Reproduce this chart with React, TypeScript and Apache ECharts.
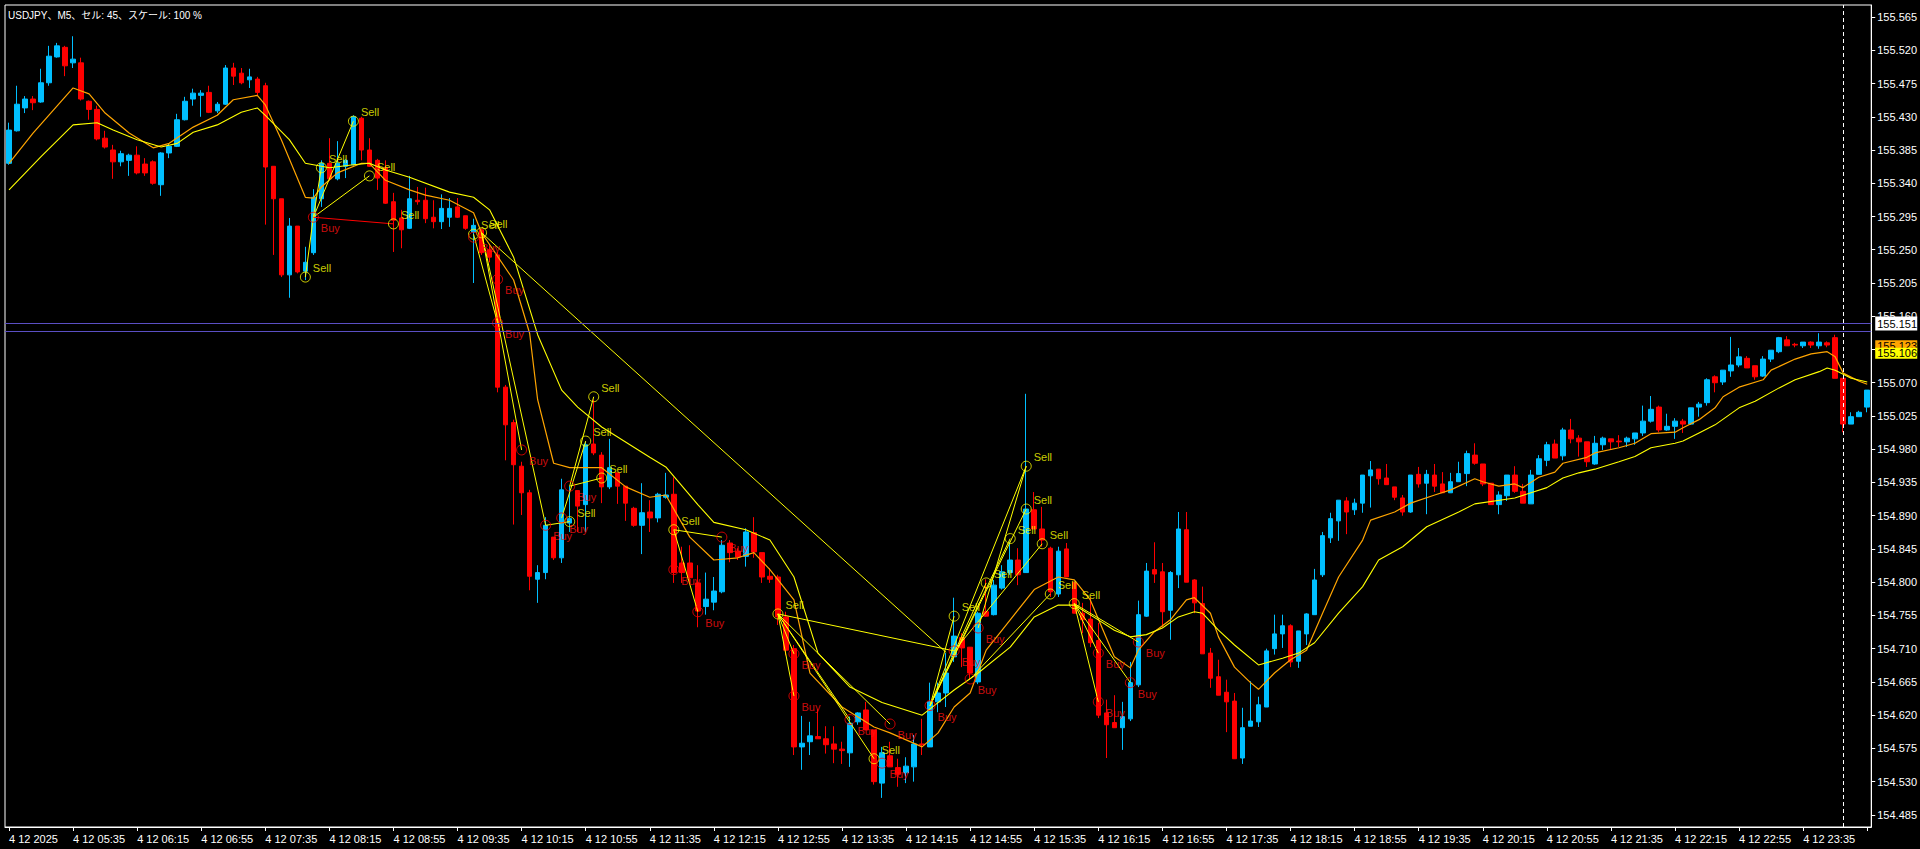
import React, { useEffect, useRef } from "react";
import * as echarts from "echarts";

const FONT = '"Liberation Sans", Arial, "Noto Sans CJK JP", sans-serif';
const TITLE = "USDJPY、M5、セル: 45、スケール: 100 %";

// ---- candles (open, close, low, high) ----
const opens = [
155.367,155.411,155.442,155.454,155.450,155.476,155.511,155.524,155.503,155.503,
155.451,155.440,155.401,155.385,155.369,155.371,155.378,155.366,155.369,155.338,
155.381,155.390,155.426,155.454,155.459,155.463,155.438,155.447,155.496,155.489,
155.480,155.481,155.472,155.363,155.319,155.216,155.282,155.221,155.246,155.319,
155.367,155.346,155.363,155.365,155.428,155.385,155.371,155.361,155.315,155.293,
155.279,155.317,155.317,155.294,155.288,155.294,155.308,155.296,155.274,155.277,
155.250,155.243,155.064,155.016,154.957,154.921,154.804,154.813,154.861,154.833,
154.880,154.924,154.905,154.987,154.972,154.929,154.948,154.930,154.900,154.877,
154.895,154.887,154.915,154.919,154.826,154.826,154.799,154.767,154.773,154.787,
154.853,154.842,154.835,154.867,154.840,154.808,154.807,154.753,154.710,154.577,
154.584,154.591,154.588,154.581,154.574,154.569,154.611,154.627,154.600,154.528,
154.565,154.549,154.542,154.550,154.581,154.577,154.638,154.650,154.699,154.725,
154.712,154.665,154.760,154.756,154.792,154.813,154.830,154.813,154.898,154.872,
154.846,154.784,154.845,154.800,154.758,154.750,154.721,154.623,154.610,154.603,
154.615,154.661,154.754,154.817,154.814,154.762,154.810,154.871,154.803,154.771,
154.704,154.672,154.651,154.639,154.562,154.605,154.611,154.631,154.710,154.730,
154.741,154.693,154.730,154.756,154.810,154.860,154.883,154.910,154.898,154.907,
154.944,154.953,154.941,154.929,154.914,154.895,154.946,154.934,154.945,154.933,
154.921,154.936,154.947,154.972,154.960,154.934,154.905,154.917,154.945,154.923,
154.906,154.946,154.965,154.987,154.971,155.006,154.995,154.990,154.960,154.986,
154.994,154.991,154.990,154.994,155.002,155.018,155.037,155.006,155.011,155.018,
155.014,155.037,155.043,155.078,155.071,155.086,155.094,155.103,155.093,155.079,
155.102,155.112,155.128,155.122,155.120,155.125,155.120,155.124,155.131,155.076,
155.014,155.024,155.037];
const closes = [
155.412,155.447,155.454,155.449,155.476,155.512,155.526,155.499,155.508,155.454,
155.440,155.400,155.389,155.369,155.380,155.378,155.354,155.354,155.340,155.381,
155.390,155.426,155.451,155.462,155.462,155.436,155.447,155.496,155.485,155.476,
155.484,155.463,155.362,155.319,155.216,155.282,155.220,155.233,155.321,155.367,
155.346,155.367,155.371,155.430,155.385,155.363,155.347,155.313,155.290,155.277,
155.319,155.315,155.292,155.288,155.306,155.306,155.294,155.279,155.283,155.246,
155.240,155.064,155.013,154.959,154.921,154.808,154.813,154.877,154.833,154.925,
154.886,154.903,154.986,154.975,154.929,154.955,154.930,154.907,154.877,154.894,
154.887,154.919,154.918,154.813,154.813,154.806,154.761,154.777,154.788,154.850,
154.840,154.834,154.868,154.841,154.807,154.804,154.753,154.708,154.577,154.582,
154.592,154.588,154.580,154.574,154.572,154.609,154.623,154.600,154.530,154.569,
154.550,154.540,154.551,154.581,154.580,154.638,154.650,154.677,154.727,154.711,
154.677,154.758,154.754,154.796,154.814,154.830,154.810,154.899,154.872,154.857,
154.787,154.842,154.807,154.758,154.749,154.718,154.620,154.607,154.603,154.618,
154.664,154.756,154.815,154.811,154.760,154.813,154.872,154.800,154.772,154.703,
154.670,154.647,154.638,154.561,154.603,154.612,154.634,154.707,154.730,154.741,
154.692,154.734,154.757,154.803,154.863,154.886,154.911,154.895,154.907,154.945,
154.952,154.940,154.932,154.915,154.895,154.945,154.933,154.946,154.930,154.921,
154.936,154.947,154.974,154.961,154.933,154.905,154.918,154.945,154.923,154.907,
154.945,154.967,154.986,154.968,155.006,154.994,154.990,154.963,154.988,154.995,
154.990,154.990,154.995,155.002,155.018,155.034,155.006,155.011,155.018,155.014,
155.036,155.041,155.074,155.070,155.087,155.094,155.105,155.090,155.078,155.102,
155.114,155.131,155.120,155.121,155.125,155.121,155.125,155.121,155.076,155.014,
155.024,155.030,155.060];
const lows = [
155.365,155.410,155.435,155.439,155.449,155.472,155.510,155.485,155.496,155.452,
155.426,155.398,155.387,155.346,155.363,155.350,155.352,155.350,155.338,155.323,
155.374,155.389,155.425,155.445,155.430,155.435,155.435,155.446,155.473,155.474,
155.469,155.459,155.284,155.243,155.213,155.185,155.218,155.209,155.243,155.308,
155.344,155.344,155.347,155.364,155.371,155.362,155.331,155.312,155.247,155.252,
155.278,155.311,155.286,155.279,155.278,155.281,155.293,155.277,155.205,155.243,
155.233,155.057,154.965,154.878,154.891,154.789,154.772,154.804,154.830,154.826,
154.868,154.868,154.868,154.972,154.907,154.926,154.906,154.883,154.875,154.838,
154.868,154.881,154.913,154.799,154.799,154.799,154.739,154.756,154.762,154.785,
154.827,154.830,154.821,154.833,154.799,154.799,154.742,154.701,154.566,154.546,
154.566,154.588,154.568,154.555,154.554,154.550,154.607,154.600,154.526,154.508,
154.550,154.523,154.528,154.530,154.566,154.577,154.624,154.631,154.692,154.685,
154.668,154.662,154.753,154.755,154.790,154.810,154.796,154.813,154.872,154.848,
154.780,154.780,154.807,154.758,154.731,154.712,154.616,154.562,154.603,154.573,
154.612,154.658,154.753,154.799,154.739,154.722,154.792,154.800,154.758,154.703,
154.657,154.647,154.597,154.561,154.554,154.605,154.604,154.631,154.702,154.711,
154.685,154.684,154.715,154.756,154.807,154.853,154.856,154.865,154.891,154.894,
154.901,154.932,154.932,154.911,154.890,154.894,154.928,154.892,154.922,154.921,
154.921,154.936,154.930,154.959,154.930,154.905,154.892,154.910,154.921,154.907,
154.906,154.946,154.957,154.968,154.965,154.988,154.970,154.956,154.959,154.979,
154.980,154.983,154.983,154.986,154.998,155.016,155.003,155.005,154.994,155.002,
155.013,155.024,155.039,155.057,155.067,155.078,155.091,155.090,155.074,155.078,
155.098,155.110,155.120,155.118,155.117,155.117,155.116,155.118,155.076,155.003,
155.014,155.024,155.030];
const highs = [
155.422,155.472,155.458,155.458,155.495,155.526,155.530,155.526,155.539,155.510,
155.452,155.445,155.411,155.392,155.384,155.380,155.390,155.374,155.371,155.382,
155.394,155.434,155.457,155.468,155.466,155.472,155.450,155.500,155.503,155.496,
155.495,155.484,155.476,155.363,155.319,155.293,155.282,155.254,155.332,155.371,
155.401,155.397,155.373,155.432,155.430,155.401,155.373,155.371,155.327,155.304,
155.350,155.335,155.334,155.317,155.325,155.320,155.320,155.296,155.292,155.279,
155.256,155.247,155.067,155.020,154.963,154.925,154.823,154.888,154.861,154.940,
154.930,154.924,154.990,155.047,154.976,154.994,154.948,154.930,154.902,154.934,
154.911,154.921,154.948,154.942,154.848,154.850,154.823,154.813,154.807,154.857,
154.857,154.846,154.873,154.888,154.840,154.819,154.810,154.760,154.715,154.619,
154.611,154.628,154.605,154.605,154.584,154.618,154.624,154.638,154.600,154.577,
154.584,154.561,154.563,154.593,154.615,154.664,154.664,154.704,154.779,154.731,
154.712,154.760,154.804,154.803,154.823,154.855,154.846,155.055,154.922,154.902,
154.848,154.848,154.853,154.800,154.772,154.779,154.745,154.641,154.647,154.638,
154.692,154.775,154.826,154.854,154.826,154.815,154.895,154.895,154.804,154.794,
154.711,154.695,154.668,154.650,154.630,154.666,154.645,154.710,154.756,154.756,
154.743,154.734,154.758,154.818,154.868,154.894,154.911,154.915,154.913,154.945,
154.964,154.953,154.960,154.929,154.918,154.945,154.956,154.952,154.960,154.949,
154.948,154.963,154.978,154.988,154.960,154.934,154.923,154.945,154.957,154.933,
154.952,154.972,154.990,154.993,155.009,155.021,154.999,154.990,154.998,154.997,
154.994,154.999,154.997,155.002,155.039,155.052,155.039,155.028,155.022,155.021,
155.036,155.044,155.076,155.080,155.087,155.132,155.117,155.106,155.093,155.106,
155.114,155.132,155.133,155.124,155.125,155.126,155.137,155.126,155.135,155.076,
155.030,155.032,155.060];

// ---- moving averages: [bar index, price] ----
const fastMA = [
[0,155.367],[3,155.408],[8,155.469],[10,155.461],[12,155.435],[15,155.408],[18,155.388],[20,155.394],
[23,155.416],[26,155.432],[28,155.453],[31,155.459],[32,155.446],[34,155.399],[37,155.321],[38,155.320],
[39,155.335],[41,155.354],[44,155.367],[45,155.367],[47,155.344],[50,155.331],[52,155.324],[55,155.317],
[58,155.300],[59,155.273],[63,155.209],[65,155.137],[66,155.047],[68,154.961],[70,154.955],[74,154.955],
[77,154.929],[80,154.915],[82,154.918],[85,154.861],[88,154.830],[91,154.833],[93,154.840],[95,154.817],
[98,154.776],[100,154.677],[104,154.631],[108,154.604],[110,154.596],[114,154.577],[116,154.596],[118,154.631],
[120,154.650],[122,154.708],[125,154.749],[128,154.790],[131,154.807],[133,154.803],[135,154.776],[138,154.699],
[140,154.684],[141,154.708],[143,154.733],[145,154.749],[147,154.776],[148,154.779],[150,154.758],[151,154.726],
[153,154.685],[155,154.664],[156,154.655],[158,154.677],[160,154.695],[162,154.708],[164,154.758],[166,154.807],
[169,154.857],[170,154.884],[173,154.895],[175,154.907],[178,154.918],[180,154.925],[183,154.940],[184,154.936],
[186,154.930],[188,154.933],[189,154.928],[191,154.942],[193,154.949],[194,154.961],[197,154.969],[198,154.975],
[201,154.982],[203,154.988],[205,155.001],[208,155.003],[209,155.009],[211,155.020],[213,155.036],[214,155.051],
[216,155.064],[219,155.074],[220,155.087],[223,155.102],[225,155.109],[227,155.112],[228,155.105],[229,155.083],
[231,155.072],[232,155.068]];
const slowMA = [
[0,155.331],[4,155.376],[8,155.419],[11,155.422],[13,155.412],[16,155.399],[19,155.389],[21,155.394],
[23,155.409],[26,155.419],[29,155.436],[31,155.442],[32,155.432],[35,155.399],[37,155.367],[40,155.361],
[43,155.365],[45,155.367],[47,155.358],[50,155.348],[55,155.328],[58,155.321],[60,155.304],[63,155.240],
[66,155.135],[69,155.060],[71,155.037],[74,155.010],[80,154.969],[82,154.956],[86,154.905],[88,154.881],
[92,154.871],[95,154.857],[98,154.807],[101,154.704],[105,154.658],[109,154.637],[114,154.620],[118,154.654],
[121,154.677],[125,154.712],[128,154.753],[131,154.769],[133,154.769],[136,154.749],[138,154.735],[140,154.726],
[142,154.729],[144,154.738],[146,154.753],[148,154.760],[149,154.758],[151,154.735],[153,154.715],[156,154.688],
[159,154.697],[161,154.704],[163,154.718],[166,154.758],[169,154.794],[171,154.830],[174,154.848],[177,154.875],
[181,154.895],[183,154.906],[188,154.914],[192,154.928],[194,154.941],[196,154.948],[198,154.953],[201,154.963],
[203,154.970],[205,154.982],[208,154.988],[209,154.991],[211,155.002],[213,155.013],[216,155.036],[218,155.045],
[221,155.063],[223,155.074],[226,155.085],[227,155.090],[228,155.087],[230,155.076],[232,155.071]];

// ---- signals: [bar index, price] ----
const sellSignals = [
[37,155.213],[39,155.361],[43,155.424],[45,155.350],[48,155.285],[58,155.271],[59,155.273],[70,154.882],
[72,154.991],[73,155.051],[74,154.941],[83,154.871],[96,154.757],[108,154.561],[118,154.754],[122,154.799],
[125,154.859],[127,154.899],[127,154.957],[129,154.852],[130,154.784],[133,154.771]];
const buySignals = [
[38,155.294],[58,155.267],[61,155.210],[61,155.151],[64,154.979],[67,154.877],[69,154.887],[70,154.930],
[83,154.817],[86,154.760],[89,154.861],[98,154.703],[98,154.646],[105,154.614],[109,154.555],[110,154.608],
[115,154.633],[118,154.707],[120,154.669],[121,154.738],[136,154.704],[136,154.638],[140,154.664],[141,154.719]];
// segments joining signals: [from index, from price, to index, to price]
const yellowLinks = [
[37,155.213,38,155.294],[38,155.294,43,155.424],[38,155.294,39,155.361],[38,155.294,45,155.350],
[58,155.271,61,155.151],[59,155.273,64,154.979],[59,155.273,67,154.877],[59,155.273,117,154.705],
[70,154.930,73,155.051],[70,154.930,74,154.941],[69,154.887,72,154.991],[67,154.877,70,154.882],
[83,154.871,86,154.760],[83,154.871,89,154.861],
[96,154.757,98,154.703],[96,154.757,98,154.646],[96,154.757,105,154.614],[96,154.757,110,154.608],
[96,154.757,118,154.707],[96,154.757,108,154.561],
[115,154.633,127,154.957],[115,154.633,127,154.899],[115,154.633,125,154.859],[115,154.633,122,154.799],
[115,154.633,118,154.754],[118,154.707,129,154.852],[120,154.669,130,154.784],[121,154.738,127,154.957],
[133,154.771,136,154.704],[133,154.771,136,154.638],[133,154.771,140,154.664],[133,154.771,141,154.719]];
const redLinks = [[38,155.294,48,155.285]];

// ---- axes ----
const xTickLabels = [
"4 12 2025","4 12 05:35","4 12 06:15","4 12 06:55","4 12 07:35","4 12 08:15","4 12 08:55","4 12 09:35",
"4 12 10:15","4 12 10:55","4 12 11:35","4 12 12:15","4 12 12:55","4 12 13:35","4 12 14:15","4 12 14:55",
"4 12 15:35","4 12 16:15","4 12 16:55","4 12 17:35","4 12 18:15","4 12 18:55","4 12 19:35","4 12 20:15",
"4 12 20:55","4 12 21:35","4 12 22:15","4 12 22:55","4 12 23:35"];
const yTickValues = [
155.565,155.520,155.475,155.430,155.385,155.340,155.295,155.250,155.205,155.160,155.115,155.070,155.025,
154.980,154.935,154.890,154.845,154.800,154.755,154.710,154.665,154.620,154.575,154.530,154.485];
// the 155.115 label sits fully under the price tags in the reference
const yLabelValues = yTickValues.filter((v) => v !== 155.115);
const priceTags = { bid: 155.151, lineLow: 155.144, orange: 155.123, yellow: 155.106 };
const daySeparatorIndex = 229;

const categories = opens.map((_, i) => "b" + i);
const Y_MIN = 154.4686;
const Y_MAX = 155.5813;

export default function App() {
  const ref = useRef<HTMLDivElement>(null);
  useEffect(() => {
    if (!ref.current) return;
    const chart = echarts.init(ref.current, null, { renderer: "svg" });
    const candles = opens.map((o, i) => [o, closes[i], lows[i], highs[i]]);
    const seg = (a: number[], color: string) => [
      { coord: [categories[a[0]], a[1]], lineStyle: { color, width: 1, type: "solid" } },
      { coord: [categories[a[2]], a[3]] },
    ];
    const tagLabel = (text: string, bg: string, h: number) => ({
      show: true,
      position: "end",
      distance: 4,
      formatter: text,
      backgroundColor: bg,
      color: "#000",
      fontSize: 11,
      lineHeight: h,
      height: h,
      width: 38,
      verticalAlign: "middle",
      fontFamily: FONT,
      padding: [0, 2, 0, 2],
    });
    const option: any = {
      animation: false,
      backgroundColor: "#000",
      textStyle: { fontFamily: FONT },
      grid: {
        left: 5, right: 48, top: 5, bottom: 22,
        show: true, borderColor: "#fff", borderWidth: 1, backgroundColor: "#000",
      },
      graphic: [
        {
          type: "text", left: 8, top: 10, z: 100,
          style: { text: TITLE, fill: "#fff", font: `10px ${FONT}` },
        },
      ],
      xAxis: {
        type: "category",
        data: categories,
        boundaryGap: true,
        axisLine: { show: true, lineStyle: { color: "#fff" } },
        axisTick: {
          show: true, alignWithLabel: true, length: 4,
          interval: (idx: number) => idx % 8 === 0,
          lineStyle: { color: "#fff" },
        },
        axisLabel: {
          interval: (idx: number) => idx % 8 === 0,
          formatter: (_v: string, idx: number) => xTickLabels[idx / 8] ?? "",
          align: "left",
          color: "#fff",
          fontSize: 11,
          fontFamily: FONT,
          margin: 6,
        },
        splitLine: { show: false },
      },
      yAxis: {
        type: "value",
        position: "right",
        min: Y_MIN,
        max: Y_MAX,
        splitLine: { show: false },
        axisLine: { show: true, lineStyle: { color: "#fff" } },
        axisTick: { show: true, length: 4, lineStyle: { color: "#fff" }, customValues: yTickValues },
        axisLabel: {
          customValues: yLabelValues,
          formatter: (v: number) => v.toFixed(3),
          color: "#fff",
          fontSize: 11,
          fontFamily: FONT,
          margin: 6,
        },
      },
      series: [
        {
          type: "candlestick",
          data: candles,
          barWidth: 5,
          itemStyle: {
            color: "#00BFFF", color0: "#FF0000",
            borderColor: "#00BFFF", borderColor0: "#FF0000", borderWidth: 1,
          },
          markLine: {
            silent: true,
            symbol: ["none", "none"],
            z: 20,
            data: [
              { xAxis: categories[daySeparatorIndex], lineStyle: { color: "#fff", type: [4, 3], width: 1 }, label: { show: false } },
              { yAxis: priceTags.bid, lineStyle: { color: "#5b4fc4", type: "solid", width: 1 }, label: tagLabel(priceTags.bid.toFixed(3), "#fff", 14) },
              { yAxis: priceTags.lineLow, lineStyle: { color: "#5b4fc4", type: "solid", width: 1 }, label: { show: false } },
              { yAxis: priceTags.orange, lineStyle: { color: "rgba(0,0,0,0)", width: 1 }, label: tagLabel(priceTags.orange.toFixed(3), "#FFA500", 11) },
              { yAxis: priceTags.yellow, lineStyle: { color: "rgba(0,0,0,0)", width: 1 }, label: tagLabel(priceTags.yellow.toFixed(3), "#FFFF00", 11) },
            ],
          },
        },
        {
          type: "line",
          name: "fast",
          data: fastMA,
          symbol: "none",
          lineStyle: { color: "#FFA500", width: 1.2 },
          z: 3,
        },
        {
          type: "line",
          name: "slow",
          data: slowMA,
          symbol: "none",
          lineStyle: { color: "#FFFF00", width: 1.1 },
          z: 3,
        },
        {
          type: "scatter",
          name: "sell",
          data: sellSignals,
          symbol: "circle",
          symbolSize: 10,
          z: 5,
          itemStyle: { color: "rgba(0,0,0,0)", borderColor: "#FFFF00", borderWidth: 1 },
          label: {
            show: true, formatter: "Sell", position: "right", distance: 2, offset: [0, -9],
            color: "#FFFF00", fontSize: 11, fontFamily: FONT,
          },
          markLine: {
            silent: true,
            symbol: ["none", "none"],
            label: { show: false },
            data: yellowLinks.map((a) => seg(a, "#FFFF00")),
          },
        },
        {
          type: "scatter",
          name: "buy",
          data: buySignals,
          symbol: "circle",
          symbolSize: 10,
          z: 5,
          itemStyle: { color: "rgba(0,0,0,0)", borderColor: "#FF0000", borderWidth: 1 },
          label: {
            show: true, formatter: "Buy", position: "right", distance: 2, offset: [0, 11],
            color: "#FF1010", fontSize: 11, fontFamily: FONT,
          },
          markLine: {
            silent: true,
            symbol: ["none", "none"],
            label: { show: false },
            data: redLinks.map((a) => seg(a, "#FF0000")),
          },
        },
      ],
    };
    chart.setOption(option);
    return () => chart.dispose();
  }, []);
  return (
    <div
      ref={ref}
      style={{ position: "fixed", left: 0, top: 0, width: 1920, height: 849, background: "#000" }}
    />
  );
}
